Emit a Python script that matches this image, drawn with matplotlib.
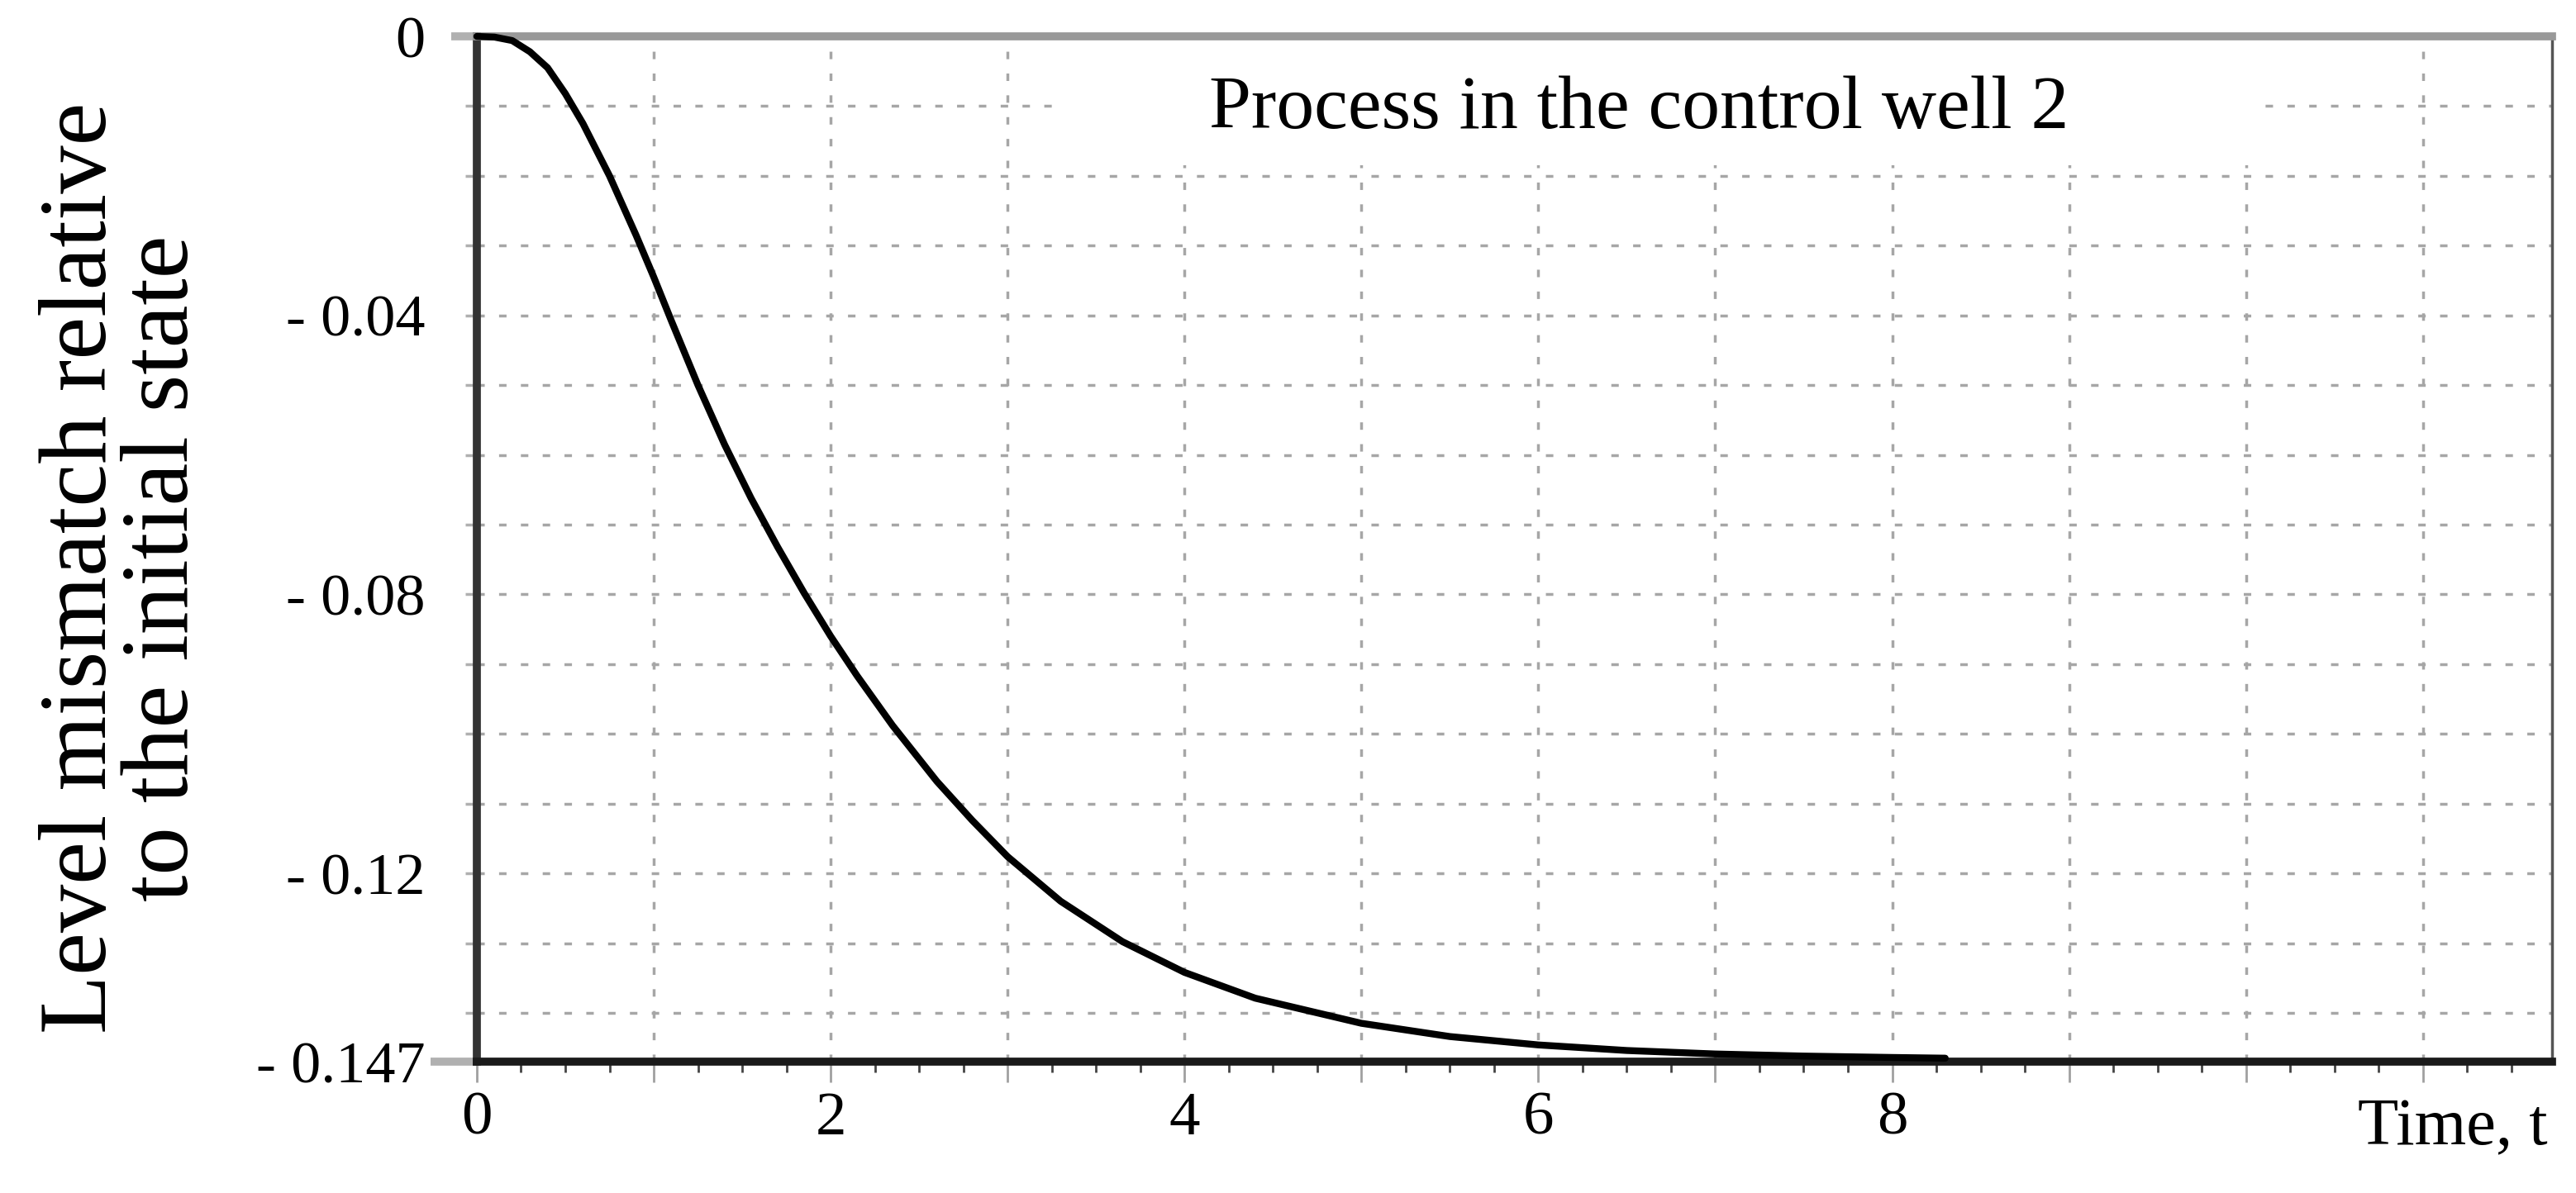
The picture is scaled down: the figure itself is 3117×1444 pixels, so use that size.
import matplotlib
matplotlib.use("Agg")
import matplotlib.pyplot as plt
from matplotlib import patches
from matplotlib.ticker import FixedLocator, MultipleLocator

plt.rcParams["font.family"] = ["Liberation Serif", "DejaVu Serif"]

# level mismatch in the control well 2
time = [0, 0.1, 0.2, 0.3, 0.4, 0.5, 0.6, 0.75, 0.9, 1.0, 1.1, 1.25, 1.4,
        1.55, 1.7, 1.85, 2.0, 2.15, 2.35, 2.6, 2.8, 3.0, 3.3, 3.65, 4.0, 4.4,
        5.0, 5.5, 6.0, 6.5, 7.0, 7.5, 8.0, 8.3]
level = [0, -0.0001, -0.0006, -0.0022, -0.0045, -0.0082, -0.0125, -0.0200,
         -0.0285, -0.0345, -0.0408, -0.0500, -0.0585, -0.0662, -0.0732,
         -0.0798, -0.0860, -0.0917, -0.0988, -0.1068, -0.1124, -0.1176,
         -0.1240, -0.1298, -0.1342, -0.1379, -0.1415, -0.1434, -0.1446,
         -0.1454, -0.1459, -0.1462, -0.1464, -0.1465]

x_ticks = list(range(0, 12))
x_tick_labels = ["0", "", "2", "", "4", "", "6", "", "8", "", "", ""]
y_ticks = [-0.147, -0.12, -0.08, -0.04, 0]
y_tick_labels = ["- 0.147", "- 0.12", "- 0.08", "- 0.04", "0"]

title = "Process in the control well 2"
x_label = "Time, t"
y_label = "Level mismatch relative\nto the initial state"

fig = plt.figure(figsize=(31.17, 14.44), dpi=100)
ax = fig.add_axes([0.1851, 0.1101, 0.9907 - 0.1851, 0.9695 - 0.1101])
ax.set_axisbelow(True)

ax.plot(time, level, color="black", lw=6, zorder=4, clip_on=False,
        solid_capstyle="round", solid_joinstyle="round")

ax.set_xlim(0, 11.73)
ax.set_ylim(-0.147, 0)

###############################################################################
# ticks and grid

ax.xaxis.set_major_locator(FixedLocator(x_ticks))
ax.set_xticklabels(x_tick_labels)
ax.xaxis.set_minor_locator(MultipleLocator(0.25))
ax.yaxis.set_major_locator(FixedLocator(y_ticks))
ax.set_yticklabels(y_tick_labels)
ax.yaxis.set_minor_locator(MultipleLocator(0.01))

ax.tick_params(axis="x", which="major", direction="out", length=18, width=2,
               color="#a0a0a0", labelsize=54, pad=8)
ax.tick_params(axis="x", which="minor", direction="out", length=9, width=2,
               color="#444444")
ax.tick_params(axis="y", which="both", direction="out", length=10, width=2.5,
               color="#b0b0b0", labelsize=52, pad=35)

# longer grey stubs at 0 and -0.147
yt = ax.yaxis.get_major_ticks()
yt[0].tick1line.set_markersize(40)
yt[0].tick1line.set_markeredgewidth(7)
yt[0].tick1line.set_color("#7a7a7a")
yt[-1].tick1line.set_markersize(22)
yt[-1].tick1line.set_markeredgewidth(7)
yt[-1].tick1line.set_color("#9a9a9a")

grid_style = dict(color="#a6a6a6", lw=2.5, linestyle=(0, (2.6, 5)))
ax.xaxis.grid(True, which="major", **grid_style)
ax.yaxis.grid(True, which="both", **grid_style)

# white box behind the title, hides part of the grid
ax.add_patch(patches.Rectangle((3.25, -0.0185), 10.1 - 3.25, 0.018,
                               facecolor="white", edgecolor="none", zorder=1))
ax.text(6.57, -0.0105, title, ha="center", va="center", fontsize=66,
        zorder=3)

###############################################################################
# spines and labels

ax.spines["top"].set_color("#999999")
ax.spines["top"].set_linewidth(7)
ax.spines["left"].set_color("#333333")
ax.spines["left"].set_linewidth(7)
ax.spines["bottom"].set_color("#1a1a1a")
ax.spines["bottom"].set_linewidth(7)
ax.spines["right"].set_color("#555555")
ax.spines["right"].set_linewidth(2.5)

ax.text(0.998, -0.036, x_label, transform=ax.transAxes, ha="right", va="top",
        fontsize=58)
fig.text(0.048, 0.524, y_label, rotation=90, ha="center", va="center",
         fontsize=84, linespacing=0.92)

fig.savefig("out.png", dpi=100)
